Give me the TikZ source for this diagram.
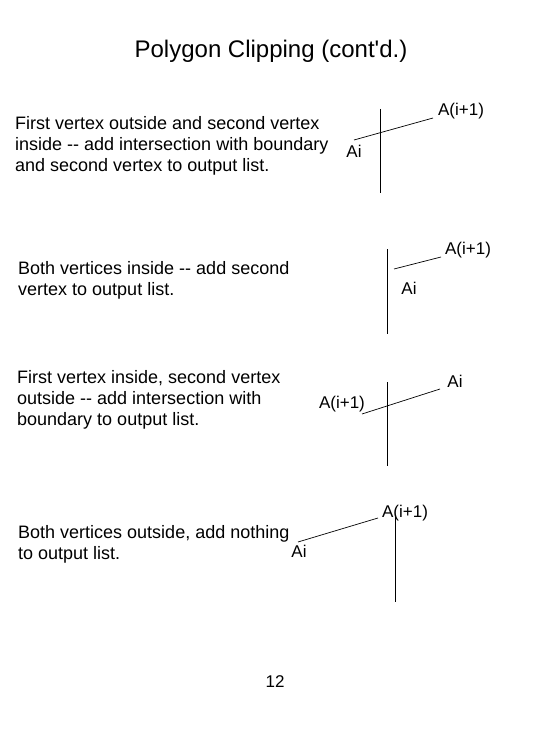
\documentclass[tikz,border=0pt]{standalone}
\usepackage{fontspec}
\setmainfont{Liberation Sans}
\usetikzlibrary{positioning}
\tikzstyle{desc} = [anchor=west, align=left, inner sep=0pt,
font=\fontsize{18}{21}\selectfont]
\tikzstyle{vlabel} = [inner sep=0pt, font=\fontsize{17}{19}\selectfont]
\tikzstyle{boundary} = [line width=0.7pt]
\tikzstyle{edge} = [line width=0.7pt]

\begin{document}
\begin{tikzpicture}[x=1pt, y=-1pt]
            \useasboundingbox (0,0) rectangle (547,730);
            \node (title) at (271,51) [font=\fontsize{24}{28}\selectfont] {Polygon Clipping (cont\textquotesingle d.)};

            % first outside, second inside
            \node (txt1) at (15,146) [desc] {First vertex outside and second vertex\\inside -{}- add intersection with boundary\\and second vertex to output list.};
            \coordinate (b1top) at (380,109);
            \coordinate (b1bot) at (380,193);
            \coordinate (v1a) at (354,140);
            \coordinate (v1b) at (433,118);
            \node (ai1) at (354,151) [vlabel] {Ai};
            \node (an1) at (461,111) [vlabel] {A(i+1)};
            \draw [boundary] (b1top) -- (b1bot);
            \draw [edge] (v1a) -- (v1b);

            % both inside
            \node (txt2) at (18,280) [desc] {Both vertices inside -{}- add second\\vertex to output list.};
            \coordinate (b2top) at (387,249);
            \coordinate (b2bot) at (387,334);
            \coordinate (v2a) at (394,269);
            \coordinate (v2b) at (441,257);
            \node (ai2) at (409,288) [vlabel] {Ai};
            \node (an2) at (468,250) [vlabel] {A(i+1)};
            \draw [boundary] (b2top) -- (b2bot);
            \draw [edge] (v2a) -- (v2b);

            % first inside, second outside
            \node (txt3) at (17,400) [desc] {First vertex inside, second vertex\\outside -{}- add intersection with\\boundary to output list.};
            \coordinate (b3top) at (387,382);
            \coordinate (b3bot) at (387,466);
            \coordinate (v3a) at (440,389);
            \coordinate (v3b) at (362,414);
            \node (ai3) at (455,381) [vlabel] {Ai};
            \node (an3) at (342,404) [vlabel] {A(i+1)};
            \draw [boundary] (b3top) -- (b3bot);
            \draw [edge] (v3a) -- (v3b);

            % both outside
            \node (txt4) at (18,544) [desc] {Both vertices outside, add nothing\\to output list.};
            \coordinate (b4top) at (395,517);
            \coordinate (b4bot) at (395,602);
            \coordinate (v4a) at (298,542);
            \coordinate (v4b) at (378,518);
            \node (ai4) at (299,551) [vlabel] {Ai};
            \node (an4) at (405,513) [vlabel] {A(i+1)};
            \draw [boundary] (b4top) -- (b4bot);
            \draw [edge] (v4a) -- (v4b);

            \node (page) at (275,682) [vlabel] {12};
        \end{tikzpicture}
\end{document}
